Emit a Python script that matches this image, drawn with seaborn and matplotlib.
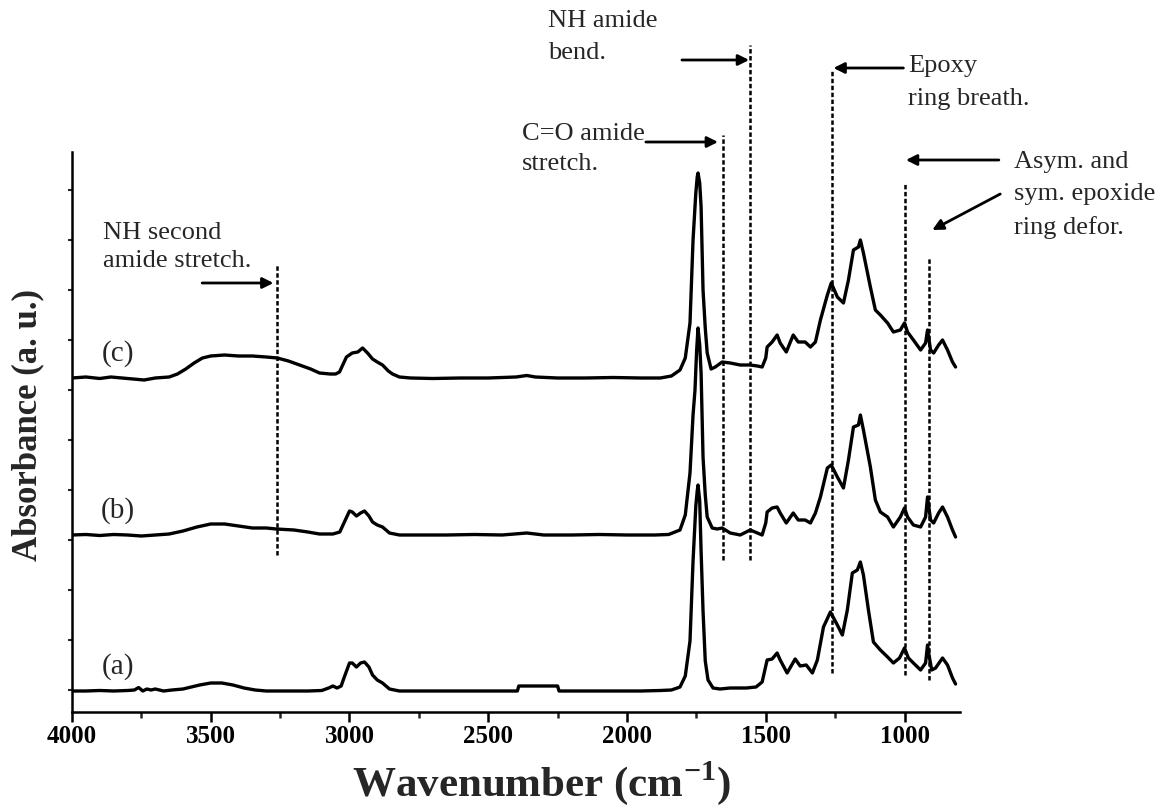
import numpy as np
import pandas as pd
import matplotlib
matplotlib.use("Agg")
import matplotlib.pyplot as plt
import seaborn as sns

# ---------------- data ----------------
wn_a = [4000, 3950, 3900, 3850, 3800, 3775, 3760, 3745, 3730, 3715, 3700, 3670, 3640, 3600, 3570,
        3540, 3500, 3460, 3420, 3380, 3340, 3300, 3250, 3200, 3150, 3100, 3075, 3060, 3045, 3030,
        3020, 3000, 2990, 2975, 2960, 2946, 2930, 2917, 2900, 2881, 2856, 2820, 2750, 2650, 2550,
        2450, 2395, 2390, 2300, 2250, 2245, 2150, 2050, 1950, 1880, 1840, 1809, 1790, 1773, 1762,
        1752, 1747, 1744, 1738, 1733, 1726, 1718, 1708, 1690, 1665, 1628, 1570, 1535, 1513, 1495,
        1477, 1459, 1448, 1423, 1394, 1376, 1354, 1332, 1314, 1292, 1267, 1242, 1224, 1206, 1188,
        1170, 1159, 1148, 1130, 1112, 1087, 1061, 1040, 1018, 1000, 986, 968, 942, 924, 917, 913,
        902, 888, 863, 845, 827, 816]
abs_a = [0.0, 0.0, 0.005, 0.0, 0.005, 0.01, 0.035, 0.0, 0.02, 0.01, 0.02, 0.0, 0.01, 0.02, 0.04,
         0.06, 0.08, 0.08, 0.06, 0.03, 0.01, 0.0, 0.0, 0.0, 0.0, 0.005, 0.03, 0.05, 0.03, 0.05,
         0.13, 0.28, 0.28, 0.24, 0.28, 0.29, 0.24, 0.16, 0.11, 0.08, 0.02, 0.0, 0.0, 0.0, 0.0,
         0.0, 0.0, 0.05, 0.05, 0.05, 0.0, 0.0, 0.0, 0.0, 0.005, 0.01, 0.04, 0.15, 0.5, 1.3,
         1.85, 2.0, 2.06, 1.9, 1.4, 0.8, 0.3, 0.11, 0.03, 0.02, 0.03, 0.03, 0.04, 0.09, 0.31,
         0.32, 0.38, 0.31, 0.18, 0.32, 0.25, 0.26, 0.18, 0.31, 0.64, 0.79, 0.66, 0.56, 0.81, 1.18,
         1.21, 1.29, 1.16, 0.81, 0.49, 0.41, 0.34, 0.28, 0.33, 0.43, 0.33, 0.28, 0.21, 0.28, 0.46, 0.38,
         0.21, 0.23, 0.33, 0.26, 0.13, 0.07]

wn_b = [4000, 3950, 3900, 3850, 3800, 3750, 3700, 3650, 3600, 3550, 3500, 3450, 3400, 3350, 3300,
        3264, 3200, 3150, 3108, 3060, 3035, 3020, 3000, 2990, 2975, 2960, 2946, 2930, 2917, 2900,
        2881, 2856, 2820, 2750, 2650, 2550, 2450, 2361, 2300, 2200, 2100, 2000, 1900, 1850, 1809,
        1790, 1773, 1762, 1755, 1749, 1744, 1738, 1733, 1726, 1718, 1711, 1693, 1675, 1657, 1628,
        1592, 1556, 1530, 1513, 1500, 1495, 1477, 1459, 1448, 1426, 1401, 1383, 1358, 1339, 1321,
        1303, 1278, 1264, 1242, 1220, 1202, 1184, 1166, 1159, 1148, 1123, 1105, 1087, 1061, 1040,
        1015, 1000, 989, 968, 942, 924, 917, 906, 895, 877, 863, 845, 827, 816]
abs_b = [0.0, 0.005, -0.005, 0.005, 0.0, -0.01, 0.0, 0.01, 0.04, 0.08, 0.11, 0.11, 0.09, 0.07, 0.07,
         0.06, 0.05, 0.03, 0.01, 0.01, 0.03, 0.12, 0.24, 0.23, 0.19, 0.22, 0.24, 0.19, 0.13, 0.10,
         0.08, 0.02, 0.0, 0.0, 0.0, 0.005, 0.0, 0.02, 0.0, 0.0, 0.005, 0.0, 0.0, 0.005, 0.05,
         0.2, 0.62, 1.2, 1.45, 1.85, 2.07, 1.9, 1.62, 0.78, 0.4, 0.18, 0.07, 0.06, 0.07, 0.02,
         0.0, 0.05, 0.02, 0.0, 0.12, 0.23, 0.27, 0.28, 0.22, 0.12, 0.22, 0.15, 0.15, 0.12, 0.22,
         0.38, 0.67, 0.70, 0.58, 0.47, 0.75, 1.08, 1.10, 1.20, 1.05, 0.68, 0.35, 0.23, 0.18, 0.08,
         0.18, 0.27, 0.18, 0.10, 0.08, 0.18, 0.38, 0.15, 0.12, 0.22, 0.28, 0.18, 0.05, -0.02]

wn_c = [4000, 3950, 3900, 3860, 3820, 3780, 3740, 3700, 3650, 3620, 3590, 3560, 3530, 3500, 3450,
        3400, 3350, 3300, 3260, 3220, 3180, 3140, 3108, 3070, 3050, 3036, 3011, 2990, 2970, 2953,
        2935, 2917, 2900, 2881, 2860, 2845, 2820, 2780, 2700, 2600, 2500, 2450, 2400, 2361, 2330,
        2250, 2150, 2050, 1950, 1880, 1840, 1809, 1790, 1773, 1762, 1752, 1747, 1744, 1738, 1733,
        1726, 1718, 1711, 1697, 1682, 1657, 1628, 1592, 1556, 1530, 1513, 1500, 1495, 1477, 1459,
        1448, 1426, 1401, 1383, 1358, 1339, 1321, 1303, 1278, 1264, 1242, 1220, 1202, 1184, 1166,
        1159, 1148, 1123, 1105, 1087, 1061, 1040, 1015, 1000, 989, 968, 942, 924, 917, 906, 895,
        877, 863, 845, 827, 816]
abs_c = [0.0, 0.01, -0.005, 0.01, 0.0, -0.01, -0.02, 0.0, 0.01, 0.04, 0.09, 0.15, 0.20, 0.22, 0.23,
         0.22, 0.22, 0.21, 0.20, 0.17, 0.13, 0.09, 0.05, 0.04, 0.04, 0.06, 0.21, 0.25, 0.26, 0.30,
         0.25, 0.19, 0.16, 0.13, 0.07, 0.04, 0.01, 0.0, -0.005, 0.0, 0.0, 0.005, 0.01, 0.025, 0.01,
         0.0, 0.0, 0.005, 0.0, 0.0, 0.02, 0.08, 0.2, 0.55, 1.38, 1.85, 2.01, 2.05, 1.95, 1.71,
         0.88, 0.5, 0.25, 0.09, 0.11, 0.16, 0.15, 0.13, 0.13, 0.12, 0.11, 0.2, 0.31, 0.36, 0.43,
         0.35, 0.26, 0.43, 0.36, 0.36, 0.31, 0.36, 0.58, 0.83, 0.95, 0.81, 0.75, 0.98, 1.28, 1.31,
         1.38, 1.25, 0.91, 0.68, 0.63, 0.55, 0.46, 0.48, 0.55, 0.46, 0.38, 0.28, 0.35, 0.48, 0.28, 0.25,
         0.33, 0.38, 0.28, 0.16, 0.11]

samples = ["(a)", "(b)", "(c)"]
offsets = [0.21, 1.77, 3.34]           # vertical stacking of the spectra

# band assignments: wavenumber of marker line, lower/upper end of dashed line
band_wn = [3260, 1655, 1556, 1261, 1000, 913]
band_lo = [1.57, 1.52, 1.52, 0.39, 0.37, 0.32]
band_hi = [4.47, 5.77, 6.67, 6.43, 5.30, 4.55]

x_ticks = [4000, 3500, 3000, 2500, 2000, 1500, 1000]

# ---------------- build table ----------------
frames = []
for name, wn, ab, off in zip(samples, [wn_a, wn_b, wn_c], [abs_a, abs_b, abs_c], offsets):
    frames.append(pd.DataFrame({"wavenumber": wn,
                                "absorbance": np.asarray(ab) + off,
                                "sample": name}))
df = pd.concat(frames, ignore_index=True)

# ---------------- style ----------------
sns.set_style("ticks")
plt.rcParams["font.family"] = ["Liberation Serif", "DejaVu Serif"]
plt.rcParams["mathtext.fontset"] = "custom"
plt.rcParams["mathtext.rm"] = "Liberation Serif"
plt.rcParams["mathtext.bf"] = "Liberation Serif:bold"
plt.rcParams["lines.scale_dashes"] = False

W, H = 1157, 805
fig = plt.figure(figsize=(W / 100, H / 100), dpi=100)
ax = fig.add_axes([72 / W, 93 / H, 888 / W, 560 / H])

sns.lineplot(data=df, x="wavenumber", y="absorbance", hue="sample", units="sample",
             estimator=None, sort=False, palette=["black"] * 3, legend=False,
             linewidth=2.4, ax=ax)

ax.set_xlim(4000, 800)
ax.set_ylim(0, 5.6)

# dashed assignment lines
for w, lo, hi in zip(band_wn, band_lo, band_hi):
    ax.plot([w, w], [lo, hi], color="black", lw=1.8, dashes=(3.2, 1.8),
            clip_on=False)

# sample labels
for name, off in zip(samples, offsets):
    ax.text(3835, off + 0.24, name, fontsize=21, ha="center", va="center")

# annotations
fs = 19
ax.text(3888, 4.65, "NH second\namide stretch.", fontsize=fs, ha="left", va="center",
        linespacing=1.4)
ax.text(2379, 5.63, "C=O amide\nstretch.", fontsize=fs, ha="left", va="center",
        linespacing=1.5, clip_on=False)
ax.text(2285, 6.75, "NH amide\nbend.", fontsize=fs, ha="left", va="center",
        linespacing=1.6, clip_on=False)
ax.text(986, 6.295, "Epoxy\nring breath.", fontsize=fs, ha="left", va="center",
        linespacing=1.6, clip_on=False)
ax.text(607, 5.17, "Asym. and\nsym. epoxide\nring defor.", fontsize=fs, ha="left",
        va="center", linespacing=1.6, clip_on=False)

arrow = dict(arrowstyle="-|>", color="black", lw=2.0, mutation_scale=16,
             shrinkA=0, shrinkB=0)
arrows = [((3531, 4.29), (3274, 4.29)),
          ((1932, 5.70), (1672, 5.70)),
          ((1802, 6.52), (1560, 6.52)),
          ((1004, 6.44), (1256, 6.44)),
          ((660, 5.52), (995, 5.52)),
          ((655, 5.18), (900, 4.82))]
for start, end in arrows:
    ax.annotate("", xy=end, xytext=start, xycoords="data", textcoords="data",
                arrowprops=arrow, annotation_clip=False)

# axes cosmetics
for side in ["top", "right"]:
    ax.spines[side].set_visible(False)
for side in ["left", "bottom"]:
    ax.spines[side].set_linewidth(1.8)
    ax.spines[side].set_color("black")

ax.set_xticks(x_ticks)
ax.set_xticks(np.arange(3750, 799, -500), minor=True)
ax.set_xticklabels([str(t) for t in x_ticks])
ax.set_yticks(np.arange(0.22, 5.4, 0.5))
ax.set_yticklabels([])
ax.tick_params(axis="x", which="major", direction="out", length=7, width=1.8,
               labelsize=18, pad=2, colors="black")
ax.tick_params(axis="x", which="minor", direction="out", length=4.5, width=1.8)
ax.tick_params(axis="y", which="major", direction="out", length=3, width=1.5)
for lab in ax.get_xticklabels():
    lab.set_fontweight("bold")

ax.set_xlabel("")
ax.set_ylabel("")
fig.text(542 / W, 1 - 783 / H, r"Wavenumber (cm$^{\mathbf{-1}}$)", fontsize=31,
         fontweight="bold", ha="center", va="center")
fig.text(28 / W, 1 - 425 / H, "Absorbance (a. u.)", fontsize=25, fontweight="bold",
         rotation=90, ha="center", va="center")

fig.savefig("out.png", dpi=100, facecolor="white")
